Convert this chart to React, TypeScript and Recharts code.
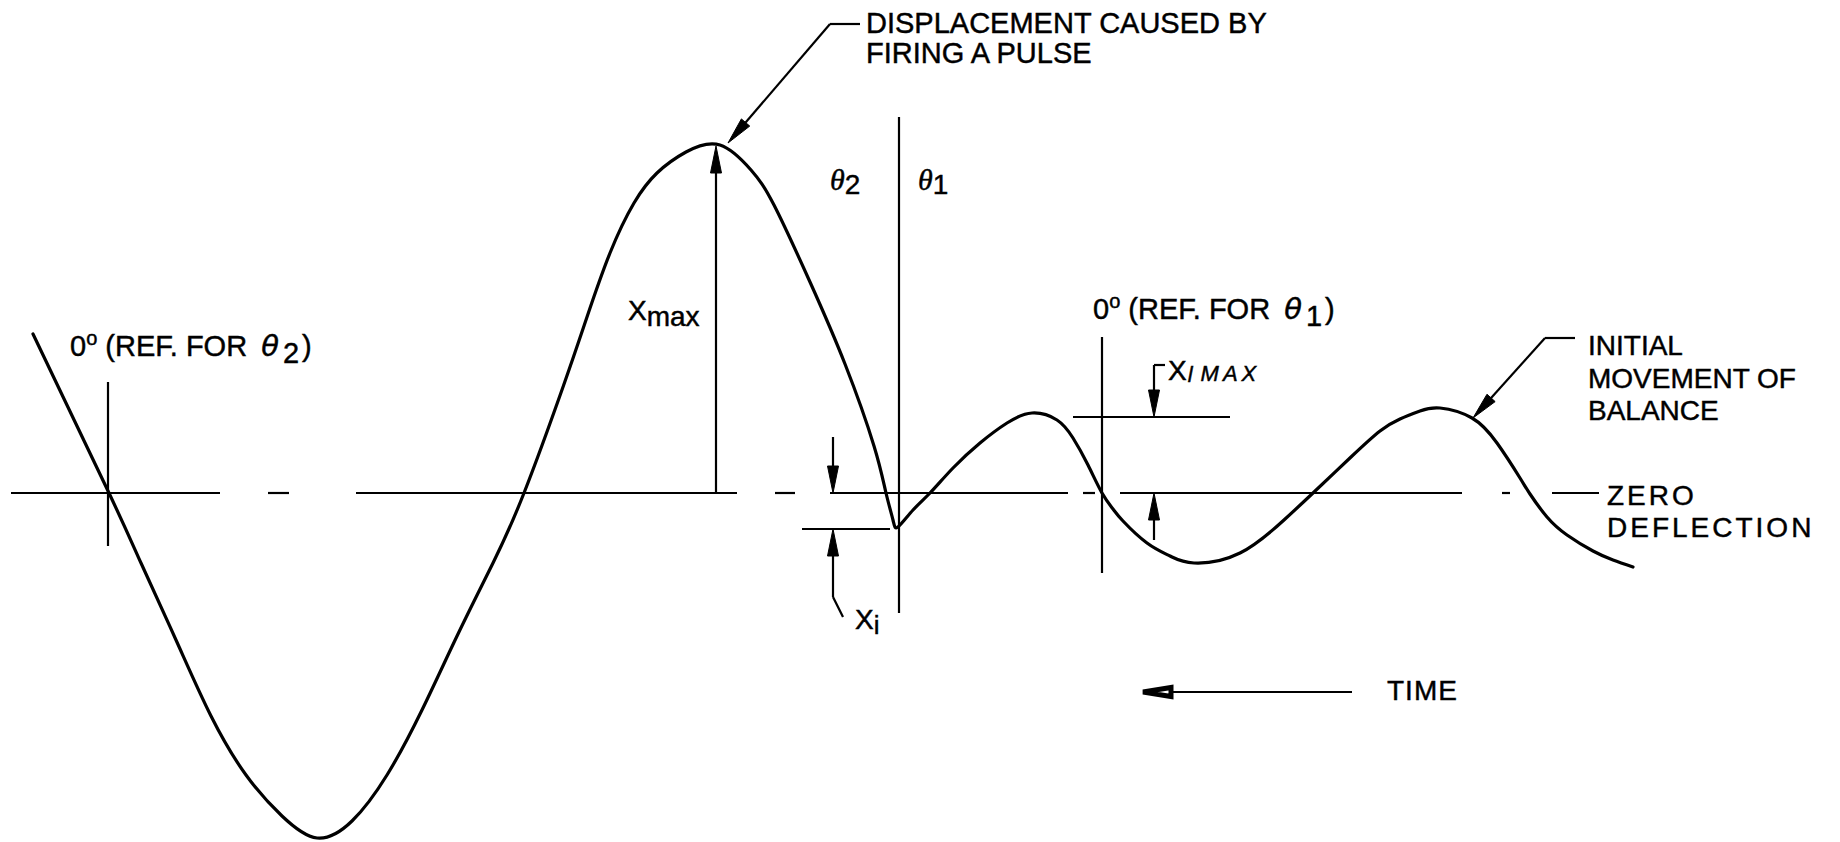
import React from "react";
import { LineChart, Line, XAxis, YAxis, ReferenceLine, ReferenceDot } from "recharts";

// time (arbitrary units) and balance deflection
const time = [
    3.3, 10.9, 14.1, 17.6, 21.1, 24.6, 28.2, 31.7, 35.2, 38.7, 42.2, 45.8,
    49.3, 52.4, 56.3, 58.7, 61.0, 63.4, 65.7, 68.6, 72.0, 75.1, 77.4, 81.0,
    84.5, 87.4, 88.6, 89.3, 89.8, 91.3, 93.0, 95.3, 98.0, 100.7, 103.2, 105.7,
    107.3, 108.8, 110.2, 111.3, 112.3, 114.7, 117.0, 119.4, 124.0, 128.4, 131.3, 135.1,
    138.0, 140.0, 142.0, 144.0, 147.2, 149.7, 152.0, 153.0, 154.7, 156.7, 159.3, 161.3,
    163.3
];
const deflection = [
    1.59, 0, -0.7, -1.47, -2.23, -2.82, -3.23, -3.45, -3.28, -2.82, -2.17, -1.41,
    -0.7, 0, 1.06, 1.76, 2.4, 2.9, 3.2, 3.41, 3.48, 3.23, 2.88, 2.11,
    1.29, 0.47, 0, -0.27, -0.34, -0.17, 0, 0.25, 0.5, 0.7, 0.8, 0.73,
    0.55, 0.28, 0, -0.16, -0.28, -0.5, -0.63, -0.7, -0.6, -0.27, 0, 0.36,
    0.62, 0.74, 0.82, 0.85, 0.75, 0.5, 0.15, -0.01, -0.24, -0.42, -0.58, -0.67,
    -0.74
];

// pieces of the broken zero-deflection line
const zeroDashes: [number, number][] = [
    [1.1, 22.0], [26.8, 28.9], [35.6, 73.7], [77.5, 79.5], [83.0, 106.8],
    [108.3, 109.5], [112.0, 146.2], [150.2, 151.0], [155.2, 159.9]
];

const rows = time.map((t, i) => ({ t, d: deflection[i] }));

type Pt = { x: number; y: number };
type Seg = [Pt, Pt];

// plain construction lines
const plainLines: Seg[] = [
    [{ x: 10.8, y: 1.11 }, { x: 10.8, y: -0.53 }],   // 0 deg ref theta2
    [{ x: 89.9, y: 3.76 }, { x: 89.9, y: -1.2 }],    // theta2 | theta1
    [{ x: 110.2, y: 1.56 }, { x: 110.2, y: -0.8 }],  // 0 deg ref theta1
    [{ x: 80.2, y: -0.36 }, { x: 89.0, y: -0.36 }],  // Xi level
    [{ x: 107.3, y: 0.76 }, { x: 123.0, y: 0.76 }],  // Xl max level
    [{ x: 83.3, y: -1.04 }, { x: 84.3, y: -1.24 }],  // Xi leader
    [{ x: 115.4, y: 1.28 }, { x: 116.5, y: 1.28 }],  // Xl max hook
    [{ x: 83.0, y: 4.69 }, { x: 86.0, y: 4.69 }],    // displacement leader
    [{ x: 154.5, y: 1.55 }, { x: 157.5, y: 1.55 }]   // balance leader
];

// arrows: tail -> tip
const arrows: Seg[] = [
    [{ x: 71.6, y: 0 }, { x: 71.6, y: 3.47 }],
    [{ x: 83.3, y: 0.56 }, { x: 83.3, y: 0 }],
    [{ x: 83.3, y: -1.04 }, { x: 83.3, y: -0.36 }],
    [{ x: 115.4, y: 1.28 }, { x: 115.4, y: 0.76 }],
    [{ x: 115.4, y: -0.47 }, { x: 115.4, y: 0 }],
    [{ x: 83.0, y: 4.69 }, { x: 72.8, y: 3.5 }],
    [{ x: 154.5, y: 1.55 }, { x: 147.3, y: 0.75 }]
];
const timeArrow: Seg = [{ x: 135.2, y: -1.99 }, { x: 114.3, y: -1.99 }];

type Part = { s: string; size?: number; shift?: number; dx?: number; theta?: "serif" | "sans"; italic?: boolean; spacing?: number };
type Label = { x: number; y: number; parts: Part[]; size?: number; spacing?: number };

const refLabel = (n: string): Part[] => [
    { s: "0" },
    { s: "o", size: 20, shift: -11 },
    { s: " (REF. FOR " },
    { s: "θ", theta: "sans", size: 29, dx: 6 },
    { s: n, size: 29, shift: 7, dx: 4 },
    { s: ")", dx: 3 }
];
const theta = (n: string): Part[] => [
    { s: "θ", theta: "serif", size: 30 },
    { s: n, size: 28, shift: 4 }
];

const labels: Label[] = [
    { x: 86.6, y: 4.6, parts: [{ s: "DISPLACEMENT CAUSED BY" }], size: 29 },
    { x: 86.6, y: 4.3, parts: [{ s: "FIRING A PULSE" }], size: 29 },
    { x: 158.8, y: 1.38, parts: [{ s: "INITIAL" }] },
    { x: 158.8, y: 1.05, parts: [{ s: "MOVEMENT OF" }] },
    { x: 158.8, y: 0.73, parts: [{ s: "BALANCE" }] },
    { x: 160.7, y: -0.12, parts: [{ s: "ZERO" }], spacing: 3 },
    { x: 160.7, y: -0.44, parts: [{ s: "DEFLECTION" }], spacing: 3 },
    { x: 138.7, y: -2.07, parts: [{ s: "TIME" }], spacing: 1 },
    { x: 7.0, y: 1.37, parts: refLabel("2"), size: 29 },
    { x: 109.3, y: 1.74, parts: refLabel("1"), size: 29 },
    { x: 83.0, y: 3.03, parts: theta("2") },
    { x: 91.8, y: 3.03, parts: theta("1") },
    { x: 62.8, y: 1.73, parts: [{ s: "X" }, { s: "max", shift: 6 }] },
    { x: 85.5, y: -1.36, parts: [{ s: "X" }, { s: "i", size: 26, shift: 5 }] },
    {
        x: 116.8, y: 1.13,
        parts: [
            { s: "X", size: 28 },
            { s: "l", size: 22, shift: 2, italic: true, dx: 1 },
            { s: "MAX", size: 22, shift: 1, italic: true, dx: 8, spacing: 4 }
        ]
    }
];

const FONT = "'Liberation Sans', Arial, Helvetica, sans-serif";

const makeArrow = (open: boolean) => (p: any) => {
    const { x1, y1, x2, y2 } = p;
    const len = Math.hypot(x2 - x1, y2 - y1) || 1;
    const ux = (x2 - x1) / len;
    const uy = (y2 - y1) / len;
    const head = open ? 28 : 27;
    const half = open ? 4.5 : 5.5;
    const bx = x2 - ux * head;
    const by = y2 - uy * head;
    return (
        <g>
            <line x1={x1} y1={y1} x2={bx} y2={by} stroke="#000" strokeWidth={2.2} />
            <polygon
                points={`${x2},${y2} ${bx - uy * half},${by + ux * half} ${bx + uy * half},${by - ux * half}`}
                fill={open ? "#fff" : "#000"}
                stroke="#000"
                strokeWidth={open ? 5 : 1}
            />
        </g>
    );
};

const thetaFont = {
    serif: "'Liberation Serif', 'DejaVu Serif', serif",
    sans: "'DejaVu Sans', 'Liberation Sans', sans-serif"
};

const renderLabel = (l: Label) => (p: any) => {
    let prev = 0;
    const base = l.size ?? 28;
    return (
        <text
            x={p.cx}
            y={p.cy}
            fontFamily={FONT}
            fontSize={base}
            fill="#000"
            stroke="#000"
            strokeWidth={0.45}
            letterSpacing={l.spacing ?? 0}
        >
            {l.parts.map((part, i) => {
                const shift = part.shift ?? 0;
                const dy = shift - prev;
                prev = shift;
                return (
                    <tspan
                        key={i}
                        dy={dy}
                        dx={part.dx}
                        fontSize={part.size ?? base}
                        letterSpacing={part.spacing}
                        fontStyle={part.theta || part.italic ? "italic" : undefined}
                        fontFamily={part.theta ? thetaFont[part.theta] : undefined}
                    >
                        {part.s}
                    </tspan>
                );
            })}
        </text>
    );
};

export default function App() {
    return (
        <div style={{ position: "absolute", left: 0, top: 0, width: 1840, height: 842, background: "#fff" }}>
            <LineChart width={1840} height={842} data={rows} margin={{ top: 0, right: 0, bottom: 0, left: 0 }}>
                <XAxis type="number" dataKey="t" domain={[0, 184]} hide allowDataOverflow />
                <YAxis type="number" domain={[-3.49, 4.93]} hide allowDataOverflow />
                {zeroDashes.map(([a, b], i) => (
                    <ReferenceLine key={`z${i}`} segment={[{ x: a, y: 0 }, { x: b, y: 0 }]} stroke="#000" strokeWidth={2.2} />
                ))}
                {plainLines.map((s, i) => (
                    <ReferenceLine key={`p${i}`} segment={s} stroke="#000" strokeWidth={2.2} />
                ))}
                {arrows.map((s, i) => (
                    <ReferenceLine key={`a${i}`} segment={s} shape={makeArrow(false)} />
                ))}
                <ReferenceLine segment={timeArrow} shape={makeArrow(true)} />
                <Line
                    type="natural"
                    dataKey="d"
                    stroke="#000"
                    strokeWidth={3.2}
                    strokeLinecap="round"
                    dot={false}
                    activeDot={false}
                    isAnimationActive={false}
                />
                {labels.map((l, i) => (
                    <ReferenceDot key={`l${i}`} x={l.x} y={l.y} r={0} shape={renderLabel(l)} />
                ))}
            </LineChart>
        </div>
    );
}
